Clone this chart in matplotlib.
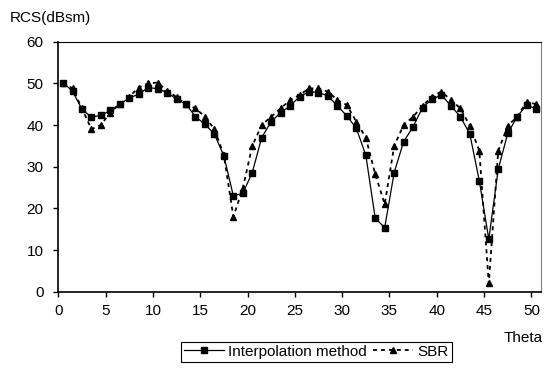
import matplotlib
matplotlib.use('Agg')
import matplotlib.pyplot as plt
import numpy as np

plt.rcParams['font.family'] = ['Liberation Sans', 'DejaVu Sans']

# theta categories (Excel-style, points sit between tick marks)
theta = np.arange(51) + 0.5
interp = [50.2, 48.1, 43.8, 41.9, 42.3, 43.5, 45.0, 46.5, 47.4, 49.0,
          48.7, 47.8, 46.2, 45.0, 42.0, 40.2, 37.8, 32.6, 23.0, 23.6,
          28.6, 37.0, 40.8, 43.0, 44.6, 46.8, 48.0, 47.8, 47.0, 44.6,
          42.2, 39.2, 32.8, 17.6, 15.4, 28.6, 36.0, 39.6, 44.2, 46.2,
          47.2, 44.6, 42.0, 37.8, 26.6, 12.6, 29.4, 38.0, 42.0, 44.8,
          43.9]
sbr = [50.2, 48.8, 44.0, 39.0, 40.0, 43.0, 45.0, 46.8, 49.0, 50.0,
       50.2, 48.2, 46.7, 45.0, 44.0, 42.0, 39.0, 32.8, 18.0, 24.8,
       35.0, 40.0, 42.0, 44.0, 46.0, 47.2, 48.8, 48.8, 48.0, 46.0,
       44.8, 40.8, 37.0, 28.2, 21.0, 35.0, 40.0, 42.0, 44.6, 46.8,
       48.0, 46.0, 44.0, 39.8, 33.8, 2.0, 33.8, 39.8, 42.0, 45.6,
       45.0]
xticks = list(range(0, 51, 5))
yticks = list(range(0, 61, 10))

fig = plt.figure(figsize=(5.47, 3.69), dpi=100)
ax = fig.add_axes([0.1066, 0.2095, 0.8821, 0.6775])

ax.plot(theta, interp, color='black', lw=0.9, marker='s', markersize=4.2,
        label='Interpolation method', zorder=3)
ax.plot(theta, sbr, color='black', lw=1.3, dashes=(2.2, 2.2), marker='^',
        markersize=4.8, label='SBR', zorder=2)

ax.set_xlim(0, 51)
ax.set_ylim(0, 60)
ax.set_xticks(xticks)
ax.set_yticks(yticks)
ax.tick_params(direction='out', length=3.5, width=1, labelsize=11)
ax.tick_params(axis='y', pad=7)
ax.tick_params(axis='x', pad=5.5)
for s in ['left', 'bottom']:
    ax.spines[s].set_linewidth(1.2)
ax.spines['top'].set_linewidth(0.8)
ax.spines['right'].set_linewidth(0.8)
ax.spines['right'].set_color('#808080')

fig.text(0.018, 0.952, 'RCS(dBsm)', fontsize=11, ha='left', va='center')
fig.text(0.993, 0.084, 'Theta', fontsize=11, ha='right', va='center')

leg = fig.legend(loc='upper right', bbox_to_anchor=(0.826, 0.074), ncol=2,
                 fontsize=11, frameon=True, fancybox=False, framealpha=1,
                 edgecolor='black', handlelength=2.6, columnspacing=0.4,
                 handletextpad=0.3, borderpad=0.2, borderaxespad=0)
leg.get_frame().set_linewidth(0.8)

fig.savefig('out.png', dpi=100)
